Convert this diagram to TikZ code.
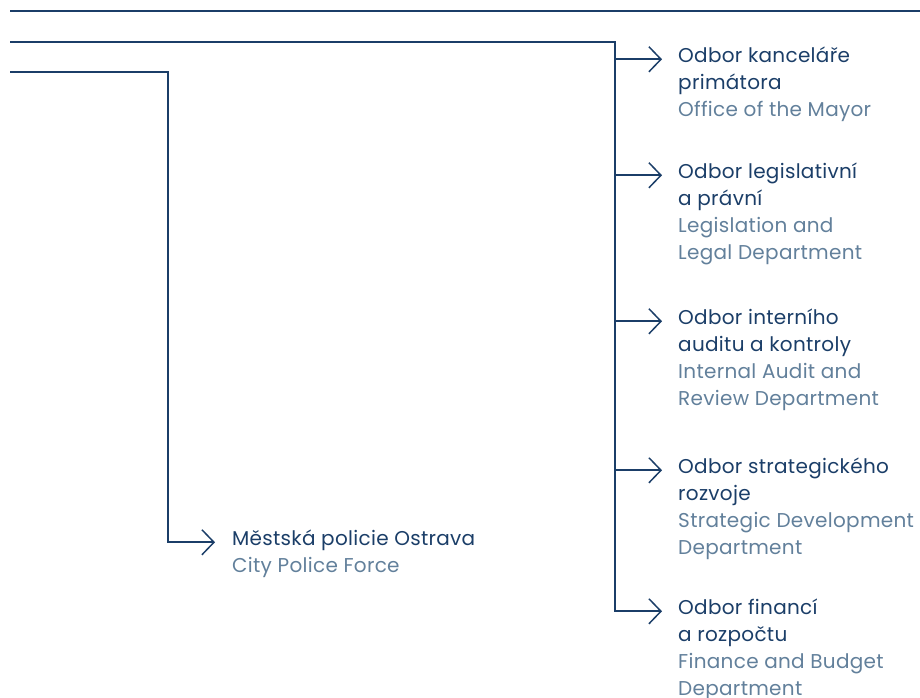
\documentclass[tikz,border=0pt]{standalone}
\usepackage{fontspec}
\setmainfont[LetterSpace=1.5]{Poppins}
\usetikzlibrary{arrows.meta}
\definecolor{navy}{HTML}{1B3E68}
\definecolor{engl}{HTML}{62809B}
\newcommand{\en}[1]{\textcolor{engl}{#1}}
% lines of a block, first baseline = node baseline
\newcommand{\blk}[1]{\vtop{\halign{##\hfil\cr#1\crcr}}}
\tikzset{
  dept/.style={anchor=base west,inner sep=0pt,text=navy,
    font=\fontsize{20}{27}\selectfont},
  branch/.style={draw=navy,line width=1.6pt,->}
}
\begin{document}
\begin{tikzpicture}[x=1pt,y=-1pt,line cap=butt,
    >={Straight Barb[length=12pt,width=25pt,line width=1.5pt]}]
    \useasboundingbox (0,0) rectangle (920,697);
    \def\trunkx{615}
    \def\gap{16pt}
    % departments
    \node[dept] (kanc) at (678,62) {\blk{Odbor kanceláře\cr primátora\cr \en{Office of the Mayor}}};
    \node[dept] (legis) at (678,178) {\blk{Odbor legislativní\cr a právní\cr \en{Legislation and}\cr \en{Legal Department}}};
    \node[dept] (audit) at (678,324) {\blk{Odbor interního\cr auditu a kontroly\cr \en{Internal Audit and}\cr \en{Review Department}}};
    \node[dept] (strat) at (678,473) {\blk{Odbor strategického\cr rozvoje\cr \en{Strategic Development}\cr \en{Department}}};
    \node[dept] (fin) at (678,614) {\blk{Odbor financí\cr a rozpočtu\cr \en{Finance and Budget}\cr \en{Department}}};
    \node[dept] (police) at (232,545) {\blk{Městská policie Ostrava\cr \en{City Police Force}}};
    % lines
    \coordinate (top0) at (10,11);
    \coordinate (top1) at (920,11);
    \coordinate (mayor) at (10,42);
    \coordinate (city) at (10,72);
    \draw[navy,line width=1.6pt] (top0) -- (top1);
    \draw[branch] (mayor) -| ([xshift=-63pt]fin.mid west) -- ([xshift=-\gap]fin.mid west);
    \foreach \d in {kanc,legis,audit,strat}
      \draw[branch] (\trunkx,0 |- \d.mid west) -- ([xshift=-\gap]\d.mid west);
    \draw[branch] (city) -| ([xshift=-64pt]police.mid west) -- ([xshift=-17pt]police.mid west);
\end{tikzpicture}
\end{document}
